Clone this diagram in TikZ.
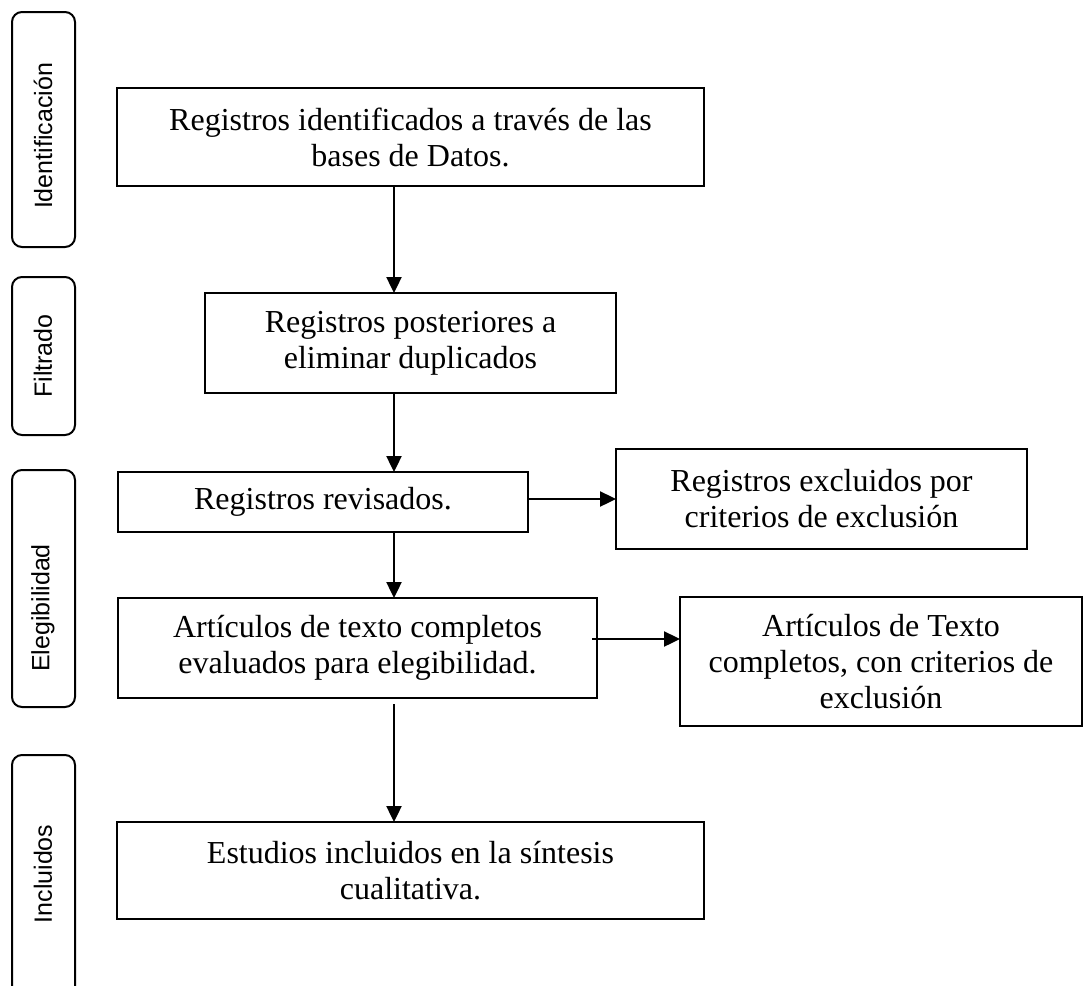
\documentclass[tikz,border=0pt]{standalone}
\usepackage{fontspec}
\setmainfont{Liberation Serif}
\newfontfamily\sidefont{Liberation Sans}
\usetikzlibrary{arrows.meta}
\begin{document}
\begin{tikzpicture}[x=0.5pt,y=-0.5pt,
  box/.style={draw, line width=1pt, inner sep=0pt, outer sep=0pt, align=center,
    font=\fontsize{16}{18}\selectfont},
  sidebar/.style={draw, line width=1pt, rounded corners=5pt, inner sep=0pt, outer sep=0pt,
    minimum width=31.5pt},
  sidelabel/.style={rotate=90, font=\sidefont\fontsize{12.5}{14}\selectfont, inner sep=0pt},
  arr/.style={line width=1.2pt, -{Triangle[length=8pt,width=7.5pt]}}]
\useasboundingbox (0,0) rectangle (1083,986);
\clip (0,0) rectangle (1083,986);
% side bars
\node[sidebar, minimum height=117.5pt] (s1) at (43.5,129.5) {};
\node[sidebar, minimum height=79pt] (s2) at (43.5,356) {};
\node[sidebar, minimum height=118.5pt] (s3) at (43.5,588.5) {};
\node[sidebar, minimum height=130pt] (s4) at (43.5,885) {};
\node[sidelabel] (l1) at (43,136) {Identificación};
\node[sidelabel] (l2) at (43,356) {Filtrado};
\node[sidelabel] (l3) at (43,608) {Elegibilidad};
\node[sidelabel] (l4) at (43,874) {Incluidos};
% boxes
\node[box, minimum width=293.5pt, minimum height=49pt] (b1) at (410.5,137)
  {Registros identificados a través de las\\bases de Datos.};
\node[box, minimum width=205.5pt, minimum height=50pt] (b2) at (410.5,343)
  {Registros posteriores a\\eliminar duplicados};
\node[box, minimum width=205pt, minimum height=30pt] (b3) at (323,502)
  {Registros revisados.};
\node[box, minimum width=205.5pt, minimum height=50pt] (b4) at (821.5,499)
  {Registros excluidos por\\criterios de exclusión};
\node[box, minimum width=239.5pt, minimum height=50pt] (b5) at (357.5,648)
  {Artículos de texto completos\\evaluados para elegibilidad.};
\node[box, minimum width=201pt, minimum height=64.5pt] (b6) at (881,661.5)
  {Artículos de Texto\\completos, con criterios de\\exclusión};
\node[box, minimum width=293.5pt, minimum height=48.5pt] (b7) at (410.5,870.5)
  {Estudios incluidos en la síntesis\\cualitativa.};
% connectors
\coordinate (col) at (394,0);
\coordinate (b5s) at ([yshift=-3pt]b5.south);
\coordinate (r2) at (592,639);
\draw[arr] (b1.south -| col) -- (b2.north -| col);
\draw[arr] (b2.south -| col) -- (b3.north -| col);
\draw[arr] (b3.south -| col) -- (b5.north -| col);
\draw[arr] (b5s -| col) -- (b7.north -| col);
\draw[arr] (b3.east |- b4.west) -- (b4.west);
\draw[arr] (r2) -- (b6.west |- r2);
\end{tikzpicture}
\end{document}
